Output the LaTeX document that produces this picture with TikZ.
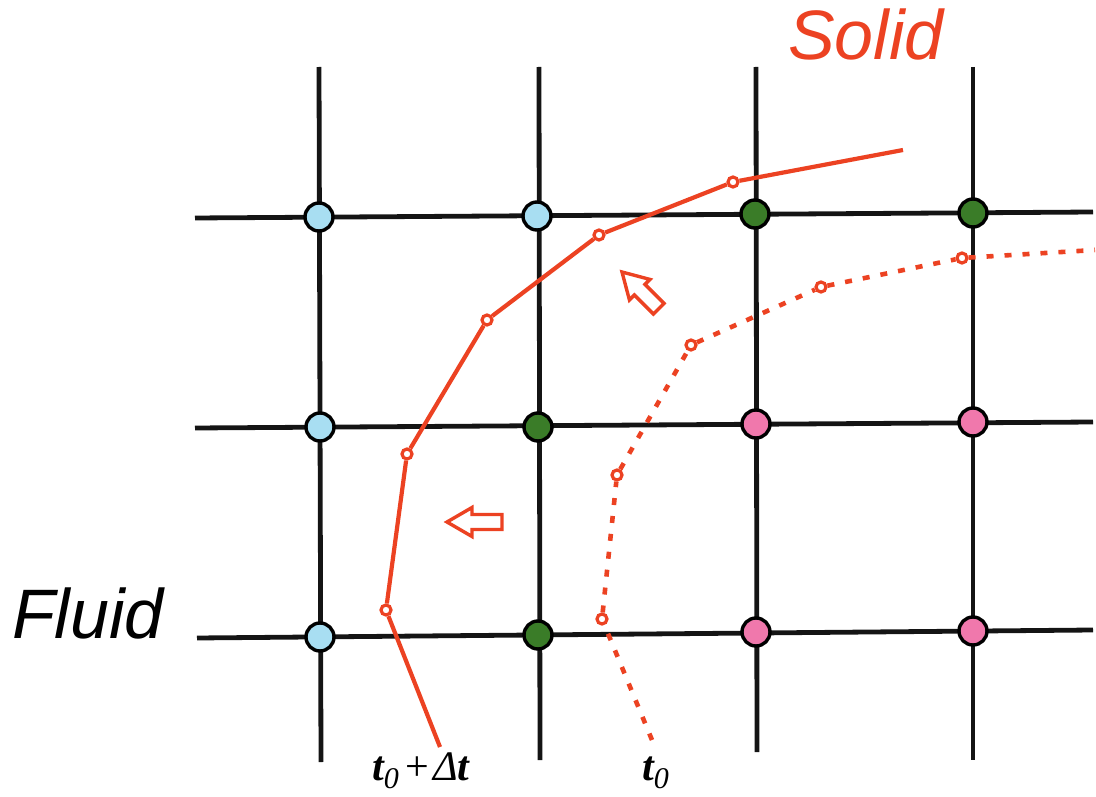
\documentclass[tikz,border=0pt]{standalone}
\usepackage{fontspec}
\setmainfont{Liberation Serif}
\newfontfamily\arialfont{Liberation Sans}
\definecolor{solidred}{RGB}{236,66,34}
\definecolor{nodeblue}{RGB}{168,222,242}
\definecolor{nodegreen}{RGB}{58,124,40}
\definecolor{nodepink}{RGB}{240,120,172}
\begin{document}
\begin{tikzpicture}[x=1pt,y=-1pt,
  gridline/.style={line width=4.8pt, black!92},
  gpt/.style={circle, draw=black, line width=3.4pt, minimum size=28pt, inner sep=0pt},
  gblue/.style={gpt, fill=nodeblue},
  ggreen/.style={gpt, fill=nodegreen},
  gpink/.style={gpt, fill=nodepink},
  mk/.style={circle, draw=solidred, fill=white, line width=3.2pt, minimum size=10pt, inner sep=0pt},
  curve/.style={solidred, line width=4.2pt},
  dotcurve/.style={solidred, line width=4.6pt, dash pattern=on 7pt off 11pt},
  hollow/.style={draw=solidred, line width=3.4pt, fill=white, line join=miter},
  biglabel/.style={anchor=base west, inner sep=0pt, font=\arialfont\itshape\fontsize{70}{70}\selectfont},
  tlabel/.style={anchor=base west, inner sep=0pt, font=\fontsize{42}{42}\selectfont}
]
\useasboundingbox (0,0) rectangle (1096,797);

% grid line ends
\coordinate (h1l) at (195,218); \coordinate (h1r) at (1093,212);
\coordinate (h2l) at (195,428); \coordinate (h2r) at (1093,422);
\coordinate (h3l) at (197,638); \coordinate (h3r) at (1093,630);
\coordinate (v1t) at (319,67);  \coordinate (v1b) at (321,762);
\coordinate (v2t) at (539,67);  \coordinate (v2b) at (540,760);
\coordinate (v3t) at (756,67);  \coordinate (v3b) at (757,752);
\coordinate (v4t) at (973,67);  \coordinate (v4b) at (973,760);

\draw[gridline] (h1l) -- (h1r);
\draw[gridline] (h2l) -- (h2r);
\draw[gridline] (h3l) -- (h3r);
\draw[gridline] (v1t) -- (v1b);
\draw[gridline] (v2t) -- (v2b);
\draw[gridline] (v3t) -- (v3b);
\draw[gridline] (v4t) -- (v4b);

% grid points
\node[gblue]  (p11) at (319,217) {};
\node[gblue]  (p12) at (537,216) {};
\node[ggreen] (p13) at (755,214) {};
\node[ggreen] (p14) at (973,213) {};
\node[gblue]  (p21) at (320,427) {};
\node[ggreen] (p22) at (538,427) {};
\node[gpink]  (p23) at (756,424) {};
\node[gpink]  (p24) at (973,422) {};
\node[gblue]  (p31) at (320,637) {};
\node[ggreen] (p32) at (538,635) {};
\node[gpink]  (p33) at (756,632) {};
\node[gpink]  (p34) at (973,631) {};

% interface at t0 + dt (solid)
\coordinate (s0) at (440,747);
\node[mk] (s1) at (386,610) {};
\node[mk] (s2) at (407,454) {};
\node[mk] (s3) at (487,320) {};
\node[mk] (s4) at (599,235) {};
\node[mk] (s5) at (733,182) {};
\coordinate (s6) at (903,150);
\draw[curve] (s0) -- (s1) -- (s2) -- (s3) -- (s4) -- (s5) -- (s6);

% interface at t0 (dotted)
\coordinate (d0) at (652,740);
\node[mk] (d1) at (602,619) {};
\node[mk] (d2) at (617,475) {};
\node[mk] (d3) at (691,345) {};
\node[mk] (d4) at (821,287) {};
\node[mk] (d5) at (962,258) {};
\coordinate (d6) at (1095,250);
\draw[dotcurve] (d0) -- (d1) -- (d2) -- (d3) -- (d4) -- (d5) -- (d6);

% hollow arrows
\draw[hollow, shift={(447,522)}, rotate=180]
  (0,0) -- (-25,-14.5) -- (-25,-7.5) -- (-55,-7.5) -- (-55,7.5) -- (-25,7.5) -- (-25,14.5) -- cycle;
\draw[hollow, shift={(622,272)}, rotate=135]
  (0,0) -- (-25,-14.5) -- (-25,-7.5) -- (-52,-7.5) -- (-52,7.5) -- (-25,7.5) -- (-25,14.5) -- cycle;

% labels
\node[biglabel, text=solidred] (solid) at (788,60) {Solid};
\node[biglabel] (fluid) at (12,638) {Fluid};
\node[tlabel] (tdt) at (372,780) {\bfseries\itshape t\raisebox{-0.2em}{\mdseries\fontsize{30}{30}\selectfont 0}\hspace{0.15em}{\mdseries\upshape +}\hspace{0.1em}{\mdseries Δ}t};
\node[tlabel] (tz) at (642,780) {\bfseries\itshape t\raisebox{-0.2em}{\mdseries\fontsize{30}{30}\selectfont 0}};
\end{tikzpicture}
\end{document}
